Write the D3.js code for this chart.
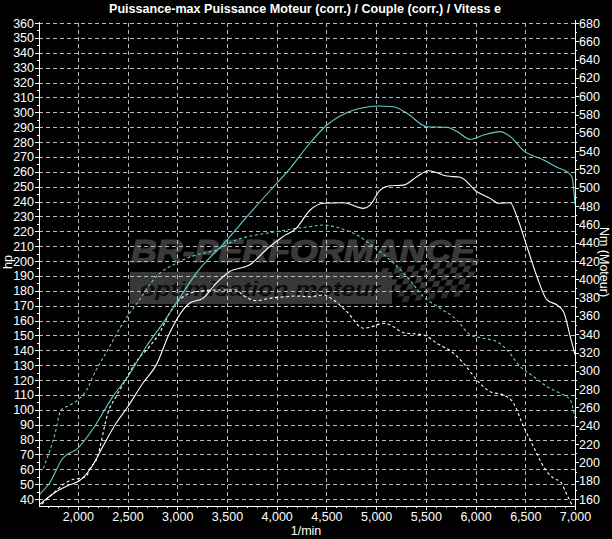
<!DOCTYPE html>
<html><head><meta charset="utf-8">
<script src="https://cdn.jsdelivr.net/npm/d3@7/dist/d3.min.js"></script>
<style>
html,body{margin:0;padding:0;background:#000;}
svg{display:block;}
text{font-family:"Liberation Sans Narrow","Arial Narrow","Liberation Sans",Arial,sans-serif;fill:#fff;}
</style></head>
<body>
<svg id="chart" width="612" height="539"></svg>
<script>
// ---------- DATA ----------
const titleText = "Puissance-max Puissance Moteur (corr.) / Couple (corr.) / Vitess e";
const xLabel = "1/min";
const yLeftLabel = "hp";
const yRightLabel = "Nm (Moteur)";
const hpTicks = d3.range(40, 361, 10);
const nmTicks = d3.range(160, 681, 20);
const rpmTicks = d3.range(2000, 7001, 500);

// Power, tuned (cyan solid) - hp
const powerTunedRpm = [1610,1714,1849,2000,2167,2352,2503,2687,2855,3000,3190,3500,3760,4000,4136,4304,4505,4706,4870,5008,5175,5310,5511,5712,5813,5947,6080,6248,6349,6483,6684,6819,6919,6969,7000];
const powerTunedHp  = [42.7,50.6,67.4,74.1,88.6,108.8,122.2,142.4,158.1,172.7,191.7,214.1,234.3,252.2,262.3,276.8,291.4,299.7,303,304.2,303.7,299.3,290.3,289.9,287,281.8,284.7,287,283.6,274.2,267.9,263,260,256.7,238];

// Power, stock (white solid) - hp
const powerStockRpm = [1610,1782,1915,2016,2134,2251,2385,2503,2654,2788,2922,3056,3123,3258,3391,3525,3726,3928,4062,4196,4337,4471,4672,4873,4940,5041,5142,5276,5410,5527,5712,5846,6014,6148,6231,6349,6416,6517,6618,6718,6819,6885,6953,7000];
const powerStockHp  = [36,44.9,49.4,52.3,61,75.2,90.9,102,117.8,130,151.4,167,171.6,174.9,185,192.8,197.3,209.6,216.3,222,234.3,238.8,239.2,235.4,237.6,247.7,250.6,251,256.7,260.7,257.1,256.3,246.6,242.1,238.8,239.2,229.8,209.6,189.4,173.8,170.4,165.9,149,137];

// Torque, tuned (cyan dashed) - Nm
const torqueTunedRpm = [1654,1772,1832,1923,2000,2107,2151,2302,2453,2620,2788,2989,3190,3391,3592,3793,3995,4196,4337,4471,4639,4807,4974,5142,5310,5477,5645,5813,5947,6080,6215,6316,6450,6586,6720,6853,6953,7000];
const torqueTunedNm  = [193.5,231.8,257.2,262.7,268.2,282.7,293.6,322.8,352,377.4,402.9,417.5,426.6,432,443,448.4,452,455.7,457.5,459.3,455.7,448.4,435.6,421.1,402.9,381,368.3,355.5,339.2,335.6,331.8,322.8,304.5,293.6,282.7,275.5,268.2,248.2];

// Torque, stock (white dashed) - Nm
const torqueStockRpm = [1638,1789,1872,1956,2023,2083,2124,2201,2224,2302,2385,2490,2587,2720,2821,2922,2989,3090,3190,3391,3592,3660,3794,3928,4096,4196,4337,4471,4571,4706,4873,4940,5074,5142,5276,5477,5612,5779,5879,6014,6148,6282,6382,6483,6583,6684,6785,6853,6920,6970];
const torqueStockNm  = [154.5,169.8,177.2,181.5,182.6,184.4,193.5,206.2,217.1,253.6,271.8,292,310,326.4,341,362.9,373.8,382.9,386.5,388.3,388.3,382.9,376.6,379.3,381,381.8,381,382.9,377.4,364.6,346.5,347.6,352,350.1,341.7,339.2,330.1,319.2,308.2,290,277.2,273.6,264.6,239,217.1,195.3,182.6,178.9,164.4,153.5];

// ---------- LAYOUT ----------
const svg = d3.select("#chart");
const plotL = 39, plotR = 575, plotT = 20, plotB = 506;
const x = d3.scaleLinear().domain([1610, 7000]).range([plotL, plotR]);
const yHp = d3.scaleLinear().domain([40, 360]).range([499, 23]);
const yNm = d3.scaleLinear().domain([160, 680]).range([499, 23]);

svg.append("rect").attr("width", 612).attr("height", 539).attr("fill", "#000");

svg.append("defs").append("clipPath").attr("id", "plotclip")
  .append("rect").attr("x", plotL).attr("y", plotT).attr("width", plotR - plotL).attr("height", plotB - plotT);

// ---------- WATERMARK ----------
const wm = svg.append("g").attr("clip-path", "url(#plotclip)");
wm.append("text").attr("x", 131).attr("y", 262)
  .attr("textLength", 344).attr("lengthAdjust", "spacingAndGlyphs")
  .style("font-family", "'Liberation Sans',Arial,sans-serif")
  .style("font-weight", "bold").style("font-style", "italic").style("font-size", "31px")
  .style("fill", "#3a3a3a").style("stroke", "#3a3a3a").style("stroke-width", "1.2px").text("BR-PERFORMANCE");
wm.append("rect").attr("x", 130).attr("y", 272).attr("width", 262).attr("height", 32).attr("fill", "#383838");
wm.append("text").attr("x", 140).attr("y", 296)
  .attr("textLength", 240).attr("lengthAdjust", "spacingAndGlyphs")
  .style("font-family", "'Liberation Sans',Arial,sans-serif")
  .style("font-weight", "bold").style("font-style", "italic").style("font-size", "21px")
  .style("fill", "#0c0c0c").text("optimisation moteur");
// checkered flag
const flag = wm.append("g").attr("transform", "translate(368,270) skewX(-25) rotate(-6)");
for (let r = 0; r < 6; r++) {
  for (let c = 0; c < 15; c++) {
    if ((r + c) % 2 === 0 && c > r - 1) {
      flag.append("rect").attr("x", 14 + c * 6.2).attr("y", r * 6.2).attr("width", 6.2).attr("height", 6.2)
        .attr("fill", r > 3 ? "#2c2c2c" : "#363636");
    }
  }
}

// ---------- GRID ----------
const grid = svg.append("g").attr("stroke", "#b8b8b8").attr("stroke-width", 1).attr("stroke-dasharray", "4,3").attr("shape-rendering", "crispEdges");
grid.selectAll("line.h").data(hpTicks).join("line")
  .attr("x1", plotL).attr("x2", plotR).attr("y1", d => Math.round(yHp(d)) + 0.5).attr("y2", d => Math.round(yHp(d)) + 0.5);
grid.selectAll("line.v").data(rpmTicks.filter(d => d < 7000)).join("line")
  .attr("y1", yHp(360)).attr("y2", plotB).attr("x1", d => Math.round(x(d)) + 0.5).attr("x2", d => Math.round(x(d)) + 0.5);

// ---------- CURVES ----------
const curves = svg.append("g").attr("clip-path", "url(#plotclip)").attr("fill", "none").attr("stroke-width", 1.1);
function drawCurve(rpm, vals, yScale, color, dash) {
  const pts = rpm.map((r, i) => [x(r), yScale(vals[i])]);
  curves.append("path").attr("d", d3.line().curve(d3.curveMonotoneX)(pts))
    .attr("stroke", color).attr("stroke-dasharray", dash);
}
drawCurve(torqueTunedRpm, torqueTunedNm, yNm, "#6ccaca", "3,2.5");
drawCurve(torqueStockRpm, torqueStockNm, yNm, "#ffffff", "3,2.5");
drawCurve(powerTunedRpm, powerTunedHp, yHp, "#6ccaca", null);
drawCurve(powerStockRpm, powerStockHp, yHp, "#ffffff", null);

// ---------- AXES ----------
const axisStyle = g => {
  g.selectAll("path.domain").remove();
  g.selectAll("line").attr("stroke", "#fff").attr("shape-rendering", "crispEdges");
  g.selectAll("text").attr("fill", "#fff").style("font-size", "12.5px")
    .style("font-family", "'Liberation Sans Narrow','Arial Narrow','Liberation Sans',Arial,sans-serif");
};
// left
svg.append("g").attr("transform", `translate(${plotL},0)`)
  .call(d3.axisLeft(yHp).tickValues(hpTicks).tickSize(4).tickPadding(1).tickFormat(d3.format("d"))).call(axisStyle);
svg.append("g").attr("transform", `translate(${plotL},0)`)
  .call(d3.axisLeft(yHp).tickValues(d3.range(45, 360, 10)).tickSize(2).tickFormat("")).call(axisStyle);
// right
svg.append("g").attr("transform", `translate(${plotR},0)`)
  .call(d3.axisRight(yNm).tickValues(nmTicks).tickSize(4).tickPadding(0).tickFormat(d3.format("d"))).call(axisStyle);
svg.append("g").attr("transform", `translate(${plotR},0)`)
  .call(d3.axisRight(yNm).tickValues(d3.range(170, 680, 20)).tickSize(2).tickFormat("")).call(axisStyle);
// bottom
svg.append("g").attr("transform", `translate(0,${plotB})`)
  .call(d3.axisBottom(x).tickValues(rpmTicks).tickSize(4).tickPadding(2).tickFormat(d3.format(","))).call(axisStyle);
svg.append("g").attr("transform", `translate(0,${plotB})`)
  .call(d3.axisBottom(x).tickValues(d3.range(1700, 7000, 100).filter(d => d % 500 !== 0)).tickSize(2).tickFormat("")).call(axisStyle);

// frame lines
const frame = svg.append("g").attr("stroke", "#fff").attr("stroke-width", 1).attr("shape-rendering", "crispEdges");
frame.append("line").attr("x1", plotL + 0.5).attr("x2", plotL + 0.5).attr("y1", yHp(360) - 1).attr("y2", plotB);
frame.append("line").attr("x1", plotR + 0.5).attr("x2", plotR + 0.5).attr("y1", plotT).attr("y2", plotB);
frame.append("line").attr("x1", plotL).attr("x2", plotR + 1).attr("y1", plotB + 0.5).attr("y2", plotB + 0.5);

// ---------- TITLES ----------
svg.append("text").attr("x", 305).attr("y", 13).attr("text-anchor", "middle")
  .attr("textLength", 392).attr("lengthAdjust", "spacingAndGlyphs")
  .style("font-family", "'Liberation Sans',Arial,sans-serif")
  .style("font-weight", "bold").style("font-size", "13px").text(titleText);
svg.append("text").attr("x", 306).attr("y", 535).attr("text-anchor", "middle").style("font-size", "12.5px").text(xLabel);
svg.append("text").attr("transform", "translate(12,262) rotate(-90)").attr("text-anchor", "middle").style("font-size", "12.5px").text(yLeftLabel);
svg.append("text").attr("transform", "translate(600,262) rotate(90)").attr("text-anchor", "middle").style("font-size", "12.5px").text(yRightLabel);
</script>
</body></html>
